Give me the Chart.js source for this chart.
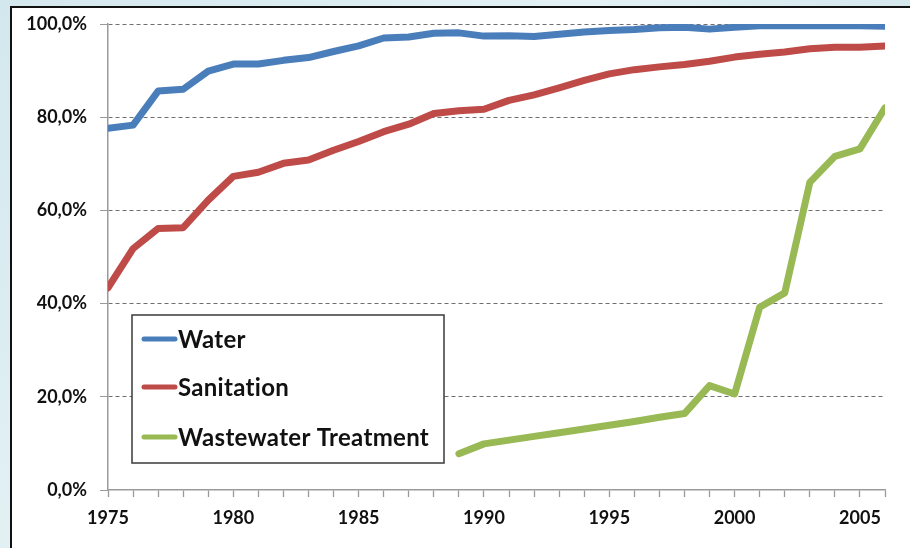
<!DOCTYPE html>
<html>
<head>
<meta charset="utf-8">
<script src="https://cdn.jsdelivr.net/npm/chart.js@4/dist/chart.umd.min.js"></script>
<style>
  html, body { margin: 0; padding: 0; }
  body { width: 910px; height: 548px; overflow: hidden; position: relative;
         background: linear-gradient(135deg, #d3e8ee 0%, #e3f1f4 40%, #cfe5ec 70%, #dcedf2 100%); }
  #panel { position: absolute; left: 10px; top: 6px; width: 910px; height: 560px;
           background: #ffffff; border-left: 2px solid #111; border-top: 2px solid #111; }
  #c { position: absolute; left: 0; top: 0; }
</style>
</head>
<body>
<div id="panel"></div>
<canvas id="c" width="910" height="548"></canvas>
<script>
const years = [1975,1976,1977,1978,1979,1980,1981,1982,1983,1984,1985,1986,1987,1988,1989,1990,
               1991,1992,1993,1994,1995,1996,1997,1998,1999,2000,2001,2002,2003,2004,2005,2006];
const water = [77.6,78.3,85.6,86.0,89.9,91.4,91.4,92.2,92.8,94.1,95.3,97.0,97.2,98.0,98.1,97.4,
               97.5,97.3,97.8,98.3,98.6,98.8,99.2,99.3,98.9,99.3,99.6,99.6,99.6,99.6,99.6,99.5];
const sanitation = [43.4,51.8,56.1,56.3,62.2,67.3,68.2,70.1,70.8,72.9,74.8,76.9,78.5,80.8,81.4,81.7,
               83.6,84.8,86.3,87.9,89.3,90.2,90.8,91.3,92.0,92.9,93.5,94.0,94.7,95.0,95.0,95.3];
const wastewater = [null,null,null,null,null,null,null,null,null,null,null,null,null,null,7.8,9.9,
               10.7,11.5,12.3,13.1,13.9,14.7,15.6,16.4,22.4,20.6,39.2,42.3,66.0,71.6,73.2,82.0];
const seriesNames = ["Water","Sanitation","Wastewater Treatment"];
const yTicks = [0,20,40,60,80,100];

const colors = ["#4a7ebb","#be4b48","#98b954"];
function pts(arr){ return years.map((y,i)=>({x:y, y:arr[i]})); }

const legendPlugin = {
  id: 'boxLegend',
  afterDraw(chart){
    const ctx = chart.ctx, ca = chart.chartArea;
    const x0 = ca.left + 24, y0 = ca.top + 291, w = 312, h = 148;
    ctx.save();
    ctx.fillStyle = '#ffffff';
    ctx.fillRect(x0, y0, w, h);
    ctx.strokeStyle = '#3a3a3a';
    ctx.lineWidth = 1.5;
    ctx.strokeRect(x0, y0, w, h);
    const rows = [24, 72, 122];
    chart.data.datasets.forEach((ds, i) => {
      const yy = y0 + rows[i];
      ctx.strokeStyle = ds.borderColor;
      ctx.lineWidth = 5;
      ctx.lineCap = 'round';
      ctx.beginPath();
      ctx.moveTo(x0 + 12, yy);
      ctx.lineTo(x0 + 43, yy);
      ctx.stroke();
      ctx.fillStyle = '#111111';
      ctx.font = 'bold 24px Lato';
      try { ctx.letterSpacing = '0.3px'; } catch (e) {}
      ctx.textBaseline = 'middle';
      ctx.textAlign = 'left';
      ctx.fillText(ds.label, x0 + 46, yy + 1);
    });
    ctx.restore();
  }
};

new Chart(document.getElementById('c'), {
  type: 'line',
  data: {
    datasets: [water, sanitation, wastewater].map((arr, i) => ({
      label: seriesNames[i],
      data: pts(arr),
      borderColor: colors[i],
      backgroundColor: colors[i],
      borderWidth: 7,
      pointRadius: 0,
      tension: 0,
      borderJoinStyle: 'round',
      borderCapStyle: 'round',
      spanGaps: false
    }))
  },
  options: {
    responsive: false,
    animation: false,
    events: [],
    layout: { padding: { left: 0, top: 24, right: 25, bottom: 0 } },
    plugins: { legend: { display: false }, tooltip: { enabled: false } },
    scales: {
      x: {
        type: 'linear',
        min: 1975, max: 2006,
        afterFit(s){ s.height = 58; },
        afterBuildTicks(s){ s.ticks = years.map(v => ({value: v})); },
        ticks: {
          autoSkip: false, maxRotation: 0,
          padding: 10,
          color: '#111111',
          font: { family: 'Lato', weight: 'bold', size: 18 },
          callback: v => (v % 5 === 0 ? String(v) : '')
        },
        grid: { drawOnChartArea: false, tickLength: 7, tickColor: '#9a9a9a', tickWidth: 1.3 },
        border: { color: '#9a9a9a', width: 1.5 }
      },
      y: {
        min: 0, max: 100,
        afterFit(s){ s.width = 108; },
        afterBuildTicks(s){ s.ticks = yTicks.map(v => ({value: v})); },
        ticks: {
          padding: 13,
          color: '#111111',
          font: { family: 'Lato', weight: 'bold', size: 18 },
          callback: v => v.toFixed(1).replace('.', ',') + '%'
        },
        grid: {
          color: c => (c.tick && c.tick.value === 0 ? 'rgba(0,0,0,0)' : '#6f6f6f'),
          lineWidth: 1,
          tickLength: 8,
          tickColor: '#9a9a9a'
        },
        border: { color: '#9a9a9a', width: 1.5, dash: [4, 3] }
      }
    }
  },
  plugins: [legendPlugin]
});
</script>
</body>
</html>
